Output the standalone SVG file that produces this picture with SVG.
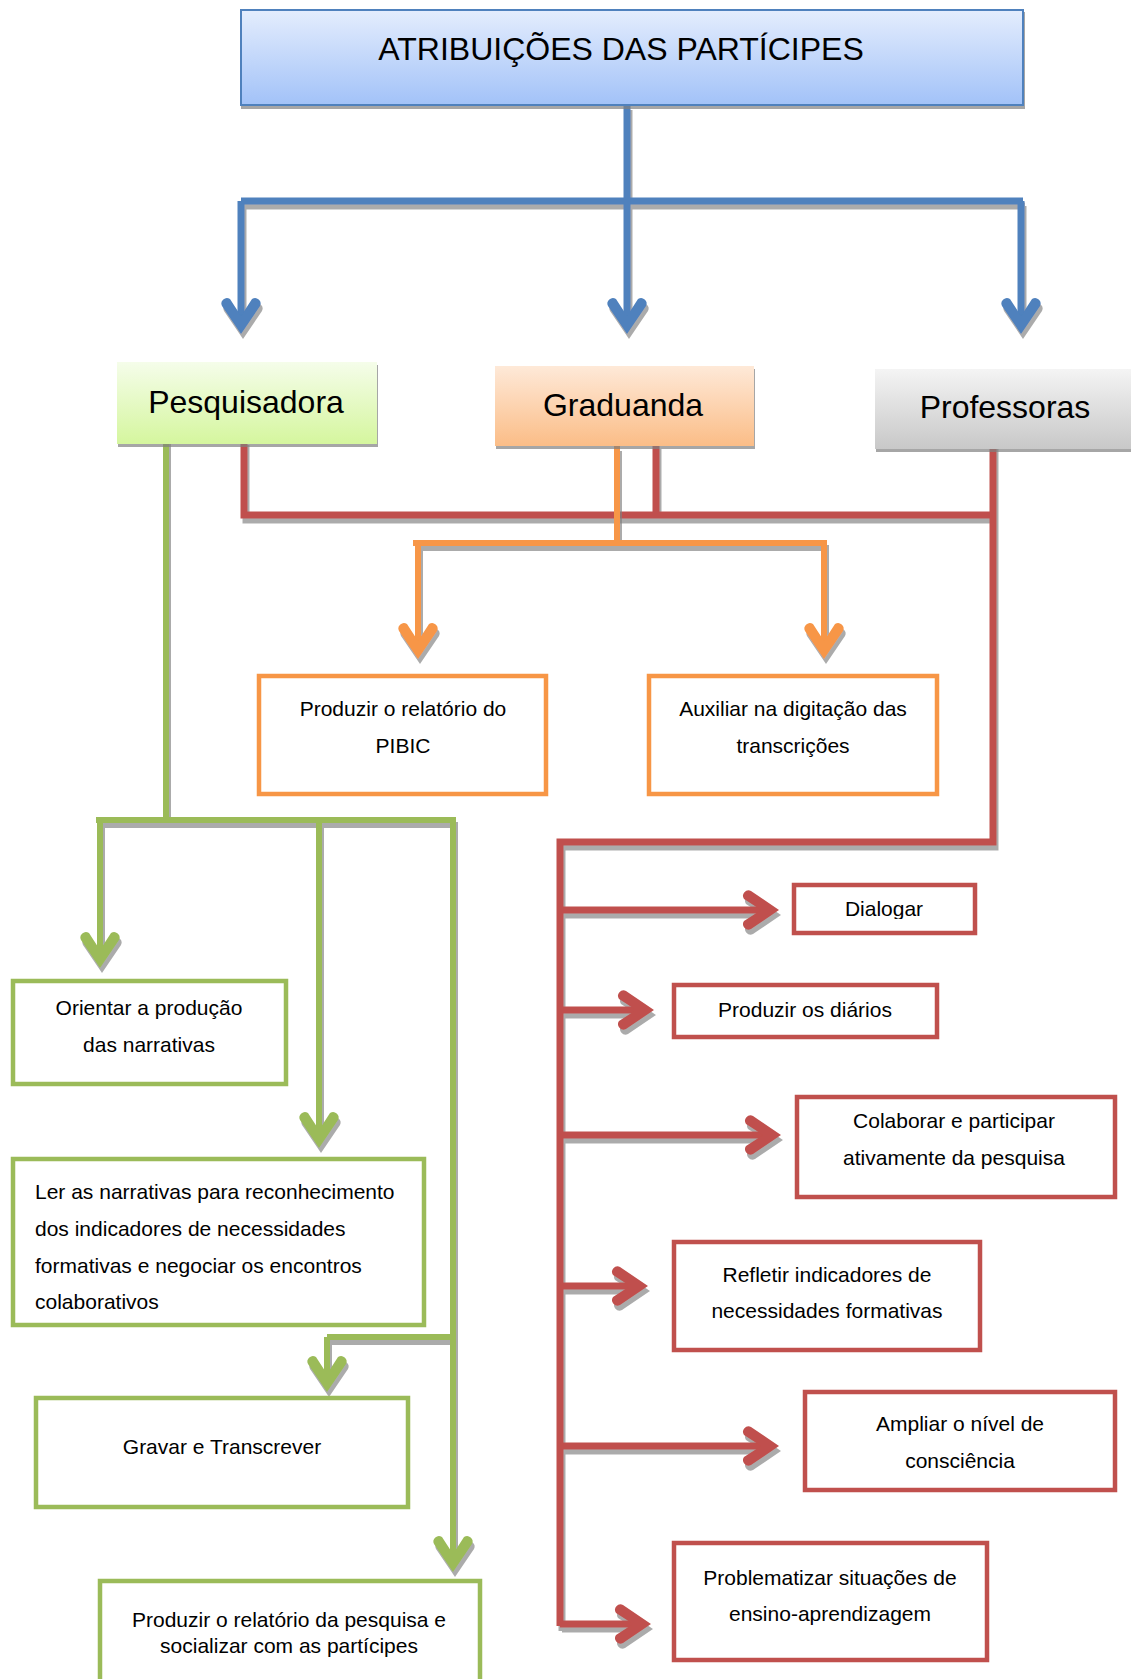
<svg xmlns="http://www.w3.org/2000/svg" width="1131" height="1679" viewBox="0 0 1131 1679">
<defs>
<linearGradient id="gBlue" x1="0" y1="0" x2="0" y2="1"><stop offset="0" stop-color="#e4edfd"/><stop offset="1" stop-color="#a2c2f8"/></linearGradient>
<linearGradient id="gGreen" x1="0" y1="0" x2="0" y2="1"><stop offset="0" stop-color="#f5fdea"/><stop offset="1" stop-color="#d5f69e"/></linearGradient>
<linearGradient id="gOrange" x1="0" y1="0" x2="0" y2="1"><stop offset="0" stop-color="#fee9d8"/><stop offset="1" stop-color="#fbbd87"/></linearGradient>
<linearGradient id="gGrey" x1="0" y1="0" x2="0" y2="1"><stop offset="0" stop-color="#f4f4f4"/><stop offset="1" stop-color="#c8c8c8"/></linearGradient>
<filter id="sh" filterUnits="userSpaceOnUse" x="0" y="0" width="1131" height="1679">
<feOffset in="SourceAlpha" dx="2" dy="5" result="o"/>
<feFlood flood-color="#7f7f7f" flood-opacity="0.65"/>
<feComposite in2="o" operator="in" result="s"/>
<feMerge><feMergeNode in="s"/><feMergeNode in="SourceGraphic"/></feMerge>
</filter>
<filter id="shb" filterUnits="userSpaceOnUse" x="0" y="0" width="1131" height="1679">
<feOffset in="SourceAlpha" dx="1" dy="3" result="o"/>
<feFlood flood-color="#7f7f7f" flood-opacity="0.7"/>
<feComposite in2="o" operator="in" result="s"/>
<feMerge><feMergeNode in="s"/><feMergeNode in="SourceGraphic"/></feMerge>
</filter>
<path id="ah" d="M0,0 L-19,-28 A5.5,5.5 0 0 1 -11,-35 L0,-18 L11,-35 A5.5,5.5 0 0 1 19,-28 Z"/>
<clipPath id="clipDia"><rect x="794" y="885" width="181" height="34"/></clipPath>
</defs>
<style>
text{font-family:"Liberation Sans",Arial,sans-serif;fill:#000}
.hd{font-size:32px;text-anchor:middle}
.bx{font-size:21px;text-anchor:middle}
.lf{font-size:21px;text-anchor:start}
.box{fill:#fff;stroke-width:4.5}
.o{stroke:#f79646}.g{stroke:#9bbb59}.r{stroke:#c0504d}
.ln{fill:none;stroke-linecap:butt}
.blue{stroke:#4f81bd;stroke-width:7}
.red{stroke:#c0504d;stroke-width:7}
.org{stroke:#f79646;stroke-width:6}
.grn{stroke:#9bbb59;stroke-width:6}
</style>

<g id="connectors">
<g id="c-blue" filter="url(#sh)">
<path class="ln blue" d="M627,105 V201 M241,201 H1023 M241,201 V318 M627,201 V318 M1021,201 V318"/>
<g fill="#4f81bd"><use href="#ah" transform="translate(241,334)"/><use href="#ah" transform="translate(627,334)"/><use href="#ah" transform="translate(1021,334)"/></g>
</g>
<g id="c-green" filter="url(#sh)">
<path class="ln grn" d="M166,435 V820 M96,820 H456 M100,820 V952 M319,820 V1132 M453,820 V1556 M327,1337 H453 M327,1337 V1376"/>
<g fill="#9bbb59"><use href="#ah" transform="translate(100,968)"/><use href="#ah" transform="translate(319,1148)"/><use href="#ah" transform="translate(453,1572)"/><use href="#ah" transform="translate(327,1392)"/></g>
</g>
<g id="c-red" filter="url(#sh)">
<path class="ln red" d="M244,440 V515 H996 M656,444 V515 M993,438 V842 H560 V1626 M560,910 H763 M560,1010 H638 M560,1135 H765 M560,1286 H632 M560,1446 H763 M560,1624 H635"/>
<g fill="#c0504d"><use href="#ah" transform="translate(779,910) rotate(-90)"/><use href="#ah" transform="translate(654,1010) rotate(-90)"/><use href="#ah" transform="translate(781,1135) rotate(-90)"/><use href="#ah" transform="translate(648,1286) rotate(-90)"/><use href="#ah" transform="translate(779,1446) rotate(-90)"/><use href="#ah" transform="translate(651,1624) rotate(-90)"/></g>
</g>
<g id="c-orange" filter="url(#sh)">
<path class="ln org" d="M617,446 V543 M413,543 H827 M418,543 V643 M824,543 V643"/>
<g fill="#f79646"><use href="#ah" transform="translate(418,659)"/><use href="#ah" transform="translate(824,659)"/></g>
</g>
</g>

<g id="n-title"><rect x="241" y="10" width="782" height="95" fill="url(#gBlue)" stroke="#4f81bd" stroke-width="2" filter="url(#shb)"/><text class="hd" x="621" y="60">ATRIBUIÇÕES DAS PARTÍCIPES</text></g>
<g id="n-pesquisadora"><rect x="117" y="362" width="260" height="82" fill="url(#gGreen)" filter="url(#shb)"/><text class="hd" x="246" y="413">Pesquisadora</text></g>
<g id="n-graduanda"><rect x="495" y="366" width="259" height="80" fill="url(#gOrange)" filter="url(#shb)"/><text class="hd" x="623" y="416">Graduanda</text></g>
<g id="n-professoras"><rect x="875" y="369" width="258" height="80" fill="url(#gGrey)" filter="url(#shb)"/><text class="hd" x="1005" y="418">Professoras</text></g>

<g id="n-pibic"><rect class="box o" x="259" y="676" width="287" height="118"/><text class="bx" x="403" y="716">Produzir o relatório do</text><text class="bx" x="403" y="753">PIBIC</text></g>
<g id="n-auxiliar"><rect class="box o" x="649" y="676" width="288" height="118"/><text class="bx" x="793" y="716">Auxiliar na digitação das</text><text class="bx" x="793" y="753">transcrições</text></g>

<g id="n-orientar"><rect class="box g" x="13" y="981" width="273" height="103"/><text class="bx" x="149" y="1015">Orientar a produção</text><text class="bx" x="149" y="1052">das narrativas</text></g>
<g id="n-ler"><rect class="box g" x="13" y="1159" width="411" height="166"/><text class="lf" x="35" y="1199">Ler as narrativas para reconhecimento</text><text class="lf" x="35" y="1236">dos indicadores de necessidades</text><text class="lf" x="35" y="1273">formativas e negociar os encontros</text><text class="lf" x="35" y="1309">colaborativos</text></g>
<g id="n-gravar"><rect class="box g" x="36" y="1398" width="372" height="109"/><text class="bx" x="222" y="1454">Gravar e Transcrever</text></g>
<g id="n-relatorio"><rect class="box g" x="100" y="1581" width="380" height="110"/><text class="bx" x="289" y="1627">Produzir o relatório da pesquisa e</text><text class="bx" x="289" y="1653">socializar com as partícipes</text></g>

<g id="n-dialogar"><rect class="box r" x="794" y="885" width="181" height="48"/><text class="bx" x="884" y="916" clip-path="url(#clipDia)">Dialogar</text></g>
<g id="n-diarios"><rect class="box r" x="674" y="985" width="263" height="52"/><text class="bx" x="805" y="1017">Produzir os diários</text></g>
<g id="n-colaborar"><rect class="box r" x="797" y="1097" width="318" height="100"/><text class="bx" x="954" y="1128">Colaborar e participar</text><text class="bx" x="954" y="1165">ativamente da pesquisa</text></g>
<g id="n-refletir"><rect class="box r" x="674" y="1242" width="306" height="108"/><text class="bx" x="827" y="1282">Refletir indicadores de</text><text class="bx" x="827" y="1318">necessidades formativas</text></g>
<g id="n-ampliar"><rect class="box r" x="805" y="1392" width="310" height="98"/><text class="bx" x="960" y="1431">Ampliar o nível de</text><text class="bx" x="960" y="1468">consciência</text></g>
<g id="n-problematizar"><rect class="box r" x="674" y="1543" width="313" height="117"/><text class="bx" x="830" y="1585">Problematizar situações de</text><text class="bx" x="830" y="1621">ensino-aprendizagem</text></g>
</svg>
